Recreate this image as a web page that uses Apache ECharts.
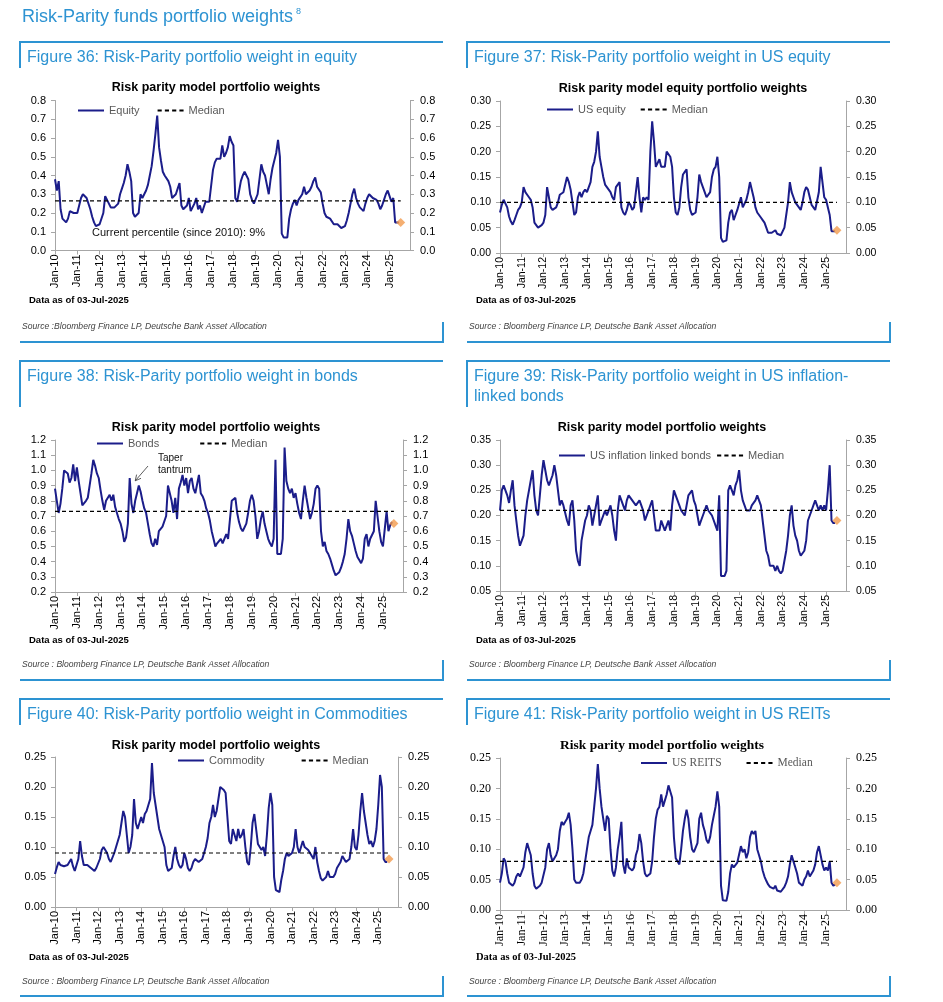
<!DOCTYPE html>
<html><head><meta charset="utf-8">
<script src="https://cdn.jsdelivr.net/npm/echarts@6/dist/echarts.min.js"></script>
<style>html,body{margin:0;padding:0;background:#fff}#c{width:943px;height:1002px}</style>
</head><body><div id="c"></div>
<script>
// ---------- data ----------
const MONTHS = ['Jan','Feb','Mar','Apr','May','Jun','Jul','Aug','Sep','Oct','Nov','Dec'];
const CATEGORIES = [];
for (let y = 2010; y <= 2025; y++) for (let m = 0; m < 12; m++) CATEGORIES.push(MONTHS[m] + '-' + String(y).slice(2));
const LATEST_DATE = 'Jul-25';
const MEDIAN_END = 'Jul-25';

const EQUITY = [
0.38,0.32,0.37,0.22,0.17,0.16,0.15,0.17,0.21,0.22,0.2,0.2,
0.2,0.21,0.28,0.3,0.29,0.28,0.27,0.22,0.18,0.15,0.13,0.13,
0.14,0.15,0.2,0.29,0.27,0.25,0.23,0.22,0.23,0.22,0.25,0.3,
0.33,0.36,0.4,0.46,0.42,0.37,0.2,0.18,0.18,0.2,0.3,0.28,
0.3,0.32,0.35,0.4,0.45,0.53,0.62,0.72,0.55,0.48,0.42,0.4,
0.39,0.37,0.34,0.28,0.27,0.3,0.33,0.36,0.24,0.22,0.21,0.24,
0.28,0.21,0.2,0.25,0.28,0.22,0.24,0.2,0.19,0.26,0.27,0.26,
0.27,0.43,0.47,0.49,0.5,0.49,0.56,0.5,0.52,0.55,0.61,0.58,
0.56,0.28,0.26,0.26,0.37,0.4,0.42,0.41,0.38,0.3,0.27,0.25,
0.25,0.3,0.38,0.46,0.42,0.4,0.35,0.3,0.38,0.44,0.48,0.52,
0.59,0.5,0.09,0.07,0.07,0.07,0.17,0.22,0.25,0.27,0.24,0.27,
0.27,0.3,0.34,0.3,0.29,0.32,0.34,0.37,0.39,0.34,0.33,0.31,
0.25,0.2,0.18,0.17,0.17,0.16,0.14,0.15,0.14,0.13,0.12,0.12,
0.13,0.16,0.2,0.25,0.3,0.33,0.28,0.25,0.23,0.22,0.21,0.25,
0.28,0.3,0.29,0.28,0.27,0.27,0.25,0.22,0.24,0.27,0.3,0.32,
0.29,0.26,0.28,0.15,0.14,0.15];
const EQUITY_MEDIAN = 0.265, EQUITY_LATEST = 0.15;

const US_EQUITY = [
0.08,0.095,0.105,0.103,0.09,0.072,0.062,0.056,0.065,0.075,0.085,0.09,
0.1,0.13,0.12,0.115,0.11,0.105,0.09,0.06,0.055,0.05,0.05,0.055,
0.06,0.075,0.13,0.11,0.09,0.085,0.085,0.09,0.1,0.115,0.115,0.12,
0.12,0.15,0.14,0.125,0.1,0.075,0.08,0.11,0.12,0.11,0.12,0.125,
0.12,0.13,0.14,0.17,0.18,0.2,0.24,0.19,0.17,0.15,0.135,0.13,
0.13,0.12,0.11,0.105,0.13,0.135,0.14,0.09,0.08,0.075,0.085,0.1,
0.095,0.085,0.09,0.12,0.15,0.11,0.08,0.11,0.105,0.11,0.105,0.2,
0.26,0.22,0.17,0.17,0.185,0.17,0.17,0.17,0.2,0.2,0.19,0.17,
0.11,0.08,0.075,0.09,0.13,0.155,0.16,0.165,0.11,0.085,0.075,0.078,
0.08,0.11,0.155,0.14,0.13,0.12,0.11,0.11,0.12,0.15,0.165,0.17,
0.19,0.15,0.03,0.022,0.022,0.025,0.06,0.08,0.085,0.065,0.075,0.085,
0.085,0.11,0.09,0.09,0.105,0.12,0.14,0.125,0.11,0.09,0.08,0.075,
0.07,0.065,0.06,0.05,0.04,0.038,0.04,0.042,0.045,0.038,0.035,0.035,
0.038,0.05,0.075,0.1,0.14,0.12,0.11,0.1,0.095,0.09,0.085,0.1,
0.12,0.13,0.125,0.11,0.095,0.09,0.085,0.085,0.12,0.17,0.14,0.11,
0.105,0.09,0.075,0.043,0.042,0.043];
const US_EQUITY_MEDIAN = 0.10, US_EQUITY_LATEST = 0.045;

const BONDS = [
0.88,0.8,0.72,0.78,0.88,1.0,0.99,0.98,0.92,0.95,1.04,0.93,
1.02,0.93,0.85,0.77,0.76,0.8,0.82,0.9,0.98,1.07,1.03,0.98,
0.95,0.87,0.8,0.74,0.8,0.82,0.84,0.8,0.84,0.76,0.72,0.68,
0.65,0.6,0.53,0.56,0.65,0.95,0.78,0.72,0.8,0.85,0.9,0.86,
0.8,0.75,0.72,0.65,0.58,0.52,0.5,0.55,0.51,0.6,0.6,0.63,
0.63,0.7,0.9,0.9,0.8,0.72,0.82,0.68,0.88,0.92,0.97,0.9,
0.95,0.85,0.93,0.95,0.88,0.85,0.86,0.97,0.85,0.83,0.8,0.75,
0.72,0.67,0.6,0.55,0.5,0.52,0.52,0.55,0.52,0.51,0.58,0.55,
0.55,0.8,0.8,0.82,0.72,0.66,0.62,0.6,0.6,0.65,0.72,0.8,
0.84,0.8,0.7,0.55,0.6,0.68,0.73,0.65,0.6,0.55,0.52,0.5,
0.55,1.07,0.45,0.45,0.45,0.55,1.15,0.93,0.88,0.85,0.88,0.82,
0.85,0.78,0.72,0.68,0.8,0.9,0.82,0.75,0.68,0.72,0.78,0.88,
0.9,0.88,0.6,0.5,0.53,0.47,0.45,0.42,0.38,0.34,0.31,0.31,
0.33,0.36,0.4,0.45,0.55,0.68,0.6,0.57,0.52,0.47,0.43,0.41,
0.39,0.42,0.55,0.58,0.5,0.55,0.56,0.6,0.8,0.7,0.6,0.53,
0.5,0.49,0.73,0.6,0.64,0.66];
const BONDS_MEDIAN = 0.73, BONDS_LATEST = 0.65;

const US_ILB = [
0.21,0.25,0.26,0.26,0.24,0.225,0.25,0.27,0.22,0.19,0.16,0.14,
0.14,0.16,0.2,0.23,0.25,0.27,0.29,0.24,0.21,0.2,0.24,0.28,
0.31,0.29,0.27,0.26,0.27,0.28,0.3,0.28,0.25,0.22,0.23,0.22,
0.22,0.19,0.18,0.22,0.23,0.19,0.13,0.11,0.1,0.15,0.17,0.19,
0.2,0.22,0.21,0.18,0.2,0.2,0.24,0.18,0.19,0.2,0.21,0.2,
0.2,0.22,0.2,0.17,0.15,0.21,0.24,0.23,0.22,0.21,0.23,0.24,
0.24,0.23,0.23,0.22,0.22,0.23,0.22,0.21,0.19,0.2,0.21,0.22,
0.23,0.2,0.17,0.17,0.17,0.19,0.18,0.17,0.18,0.19,0.17,0.22,
0.25,0.25,0.23,0.22,0.21,0.21,0.2,0.22,0.24,0.24,0.25,0.23,
0.22,0.2,0.18,0.19,0.2,0.21,0.22,0.21,0.21,0.2,0.19,0.18,
0.17,0.24,0.08,0.08,0.08,0.09,0.25,0.26,0.25,0.24,0.26,0.27,
0.29,0.25,0.23,0.22,0.21,0.21,0.21,0.22,0.22,0.23,0.24,0.23,
0.22,0.19,0.16,0.13,0.12,0.1,0.1,0.1,0.09,0.1,0.09,0.085,
0.09,0.11,0.13,0.16,0.2,0.22,0.18,0.16,0.15,0.13,0.12,0.12,
0.13,0.15,0.19,0.2,0.21,0.22,0.23,0.22,0.21,0.22,0.21,0.22,
0.21,0.25,0.3,0.19,0.185,0.185];
const US_ILB_MEDIAN = 0.21, US_ILB_LATEST = 0.19;

const COMMODITY = [
0.055,0.066,0.075,0.07,0.07,0.068,0.068,0.07,0.075,0.08,0.068,0.06,
0.058,0.08,0.11,0.085,0.07,0.068,0.07,0.068,0.065,0.062,0.06,0.065,
0.068,0.08,0.095,0.1,0.095,0.09,0.08,0.075,0.075,0.09,0.1,0.11,
0.12,0.14,0.16,0.15,0.12,0.09,0.1,0.12,0.18,0.14,0.13,0.14,
0.15,0.14,0.155,0.16,0.17,0.18,0.24,0.19,0.17,0.15,0.13,0.12,
0.12,0.1,0.07,0.06,0.06,0.065,0.085,0.1,0.08,0.07,0.065,0.07,
0.09,0.08,0.065,0.06,0.065,0.075,0.08,0.082,0.075,0.072,0.08,0.09,
0.1,0.115,0.14,0.15,0.17,0.15,0.16,0.18,0.2,0.2,0.195,0.19,
0.15,0.11,0.105,0.13,0.12,0.11,0.13,0.115,0.12,0.13,0.1,0.075,
0.07,0.1,0.14,0.155,0.13,0.105,0.1,0.095,0.1,0.085,0.12,0.165,
0.19,0.17,0.05,0.028,0.027,0.025,0.045,0.06,0.08,0.09,0.085,0.085,
0.09,0.1,0.13,0.1,0.09,0.09,0.11,0.1,0.1,0.095,0.09,0.085,
0.08,0.1,0.075,0.06,0.048,0.044,0.042,0.05,0.06,0.05,0.048,0.05,
0.055,0.065,0.07,0.075,0.085,0.08,0.075,0.075,0.08,0.1,0.13,0.1,
0.095,0.12,0.16,0.19,0.16,0.14,0.12,0.105,0.11,0.1,0.11,0.13,
0.17,0.22,0.2,0.08,0.075,0.075];
const COMMODITY_MEDIAN = 0.09, COMMODITY_LATEST = 0.08;

const US_REITS = [
0.045,0.06,0.085,0.08,0.06,0.045,0.042,0.04,0.045,0.055,0.06,0.055,
0.055,0.07,0.095,0.11,0.1,0.09,0.06,0.04,0.035,0.033,0.04,0.045,
0.045,0.07,0.1,0.11,0.09,0.08,0.085,0.09,0.1,0.13,0.145,0.14,
0.145,0.15,0.16,0.14,0.1,0.05,0.045,0.042,0.045,0.05,0.06,0.08,
0.1,0.12,0.13,0.14,0.17,0.2,0.24,0.2,0.17,0.15,0.13,0.155,
0.15,0.1,0.065,0.055,0.07,0.1,0.12,0.145,0.075,0.06,0.085,0.07,
0.07,0.065,0.07,0.09,0.1,0.125,0.11,0.08,0.06,0.055,0.055,0.06,
0.08,0.12,0.15,0.165,0.17,0.19,0.17,0.17,0.19,0.205,0.195,0.185,
0.12,0.085,0.08,0.075,0.1,0.13,0.15,0.165,0.15,0.12,0.1,0.095,
0.095,0.11,0.15,0.16,0.14,0.13,0.115,0.11,0.12,0.14,0.155,0.17,
0.195,0.17,0.04,0.016,0.015,0.015,0.03,0.06,0.075,0.07,0.072,0.078,
0.08,0.105,0.095,0.1,0.085,0.095,0.12,0.13,0.125,0.13,0.1,0.09,
0.08,0.065,0.055,0.048,0.042,0.038,0.04,0.035,0.04,0.032,0.03,0.03,
0.033,0.038,0.045,0.055,0.075,0.09,0.08,0.078,0.06,0.045,0.042,0.04,
0.05,0.055,0.065,0.055,0.06,0.065,0.075,0.095,0.105,0.09,0.075,0.065,
0.07,0.065,0.08,0.045,0.04,0.042];
const US_REITS_MEDIAN = 0.08, US_REITS_LATEST = 0.045;

// ---------- styling / layout ----------
const SANS = '"Liberation Sans", Arial, sans-serif';
const SERIF = '"Liberation Serif", "Times New Roman", serif';
const NAVY = '#1b1d8a';
const BLUE = '#2d93d2';
const ORANGE = '#f39b4e';
const AXIS_GREY = '#a6a6a6';
const SOLID_ICON = 'path://M0,0h26v2h-26z';
const DASH_ICON = 'path://M0,0h4v2h-4z M7,0h4v2h-4z M14,0h4v2h-4z M21,0h4v2h-4z';

const panels = [
  {name:'Equity', data:EQUITY, median:EQUITY_MEDIAN, latest:EQUITY_LATEST,
   grid:{left:55, top:100.5, width:355, height:150}, min:0, max:0.8, interval:0.1, dec:1, font:SANS, fs:11,
   legend:{left:78, cy:111, gap:18}, title:'Risk parity model portfolio weights', tx:216, ty:88},
  {name:'US equity', data:US_EQUITY, median:US_EQUITY_MEDIAN, latest:US_EQUITY_LATEST,
   grid:{left:500, top:101, width:346, height:152}, min:0, max:0.3, interval:0.05, dec:2, font:SANS, fs:10.5,
   legend:{left:547, cy:110, gap:15}, title:'Risk parity model equity portfolio weights', tx:683, ty:89},
  {name:'Bonds', data:BONDS, median:BONDS_MEDIAN, latest:BONDS_LATEST,
   grid:{left:55, top:440, width:348, height:152}, min:0.2, max:1.2, interval:0.1, dec:1, font:SANS, fs:11,
   legend:{left:97, cy:444, gap:41}, title:'Risk parity model portfolio weights', tx:216, ty:428},
  {name:'US inflation linked bonds', data:US_ILB, median:US_ILB_MEDIAN, latest:US_ILB_LATEST,
   grid:{left:500, top:440, width:346, height:151}, min:0.05, max:0.35, interval:0.05, dec:2, font:SANS, fs:10.5,
   legend:{left:559, cy:456, gap:6}, title:'Risk parity model portfolio weights', tx:662, ty:428},
  {name:'Commodity', data:COMMODITY, median:COMMODITY_MEDIAN, latest:COMMODITY_LATEST,
   grid:{left:55, top:757, width:343, height:150}, min:0, max:0.25, interval:0.05, dec:2, font:SANS, fs:11,
   legend:{left:178, cy:761, gap:37}, title:'Risk parity model portfolio weights', tx:216, ty:746},
  {name:'US REITS', data:US_REITS, median:US_REITS_MEDIAN, latest:US_REITS_LATEST,
   grid:{left:500, top:758, width:346, height:152}, min:0, max:0.25, interval:0.05, dec:2, font:SERIF, fs:12,
   legend:{left:641, cy:763, gap:25}, title:'Risk parity model portfolio weights', tx:662, ty:746}
];

const grids = [], xAxes = [], yAxes = [], series = [], legends = [];
panels.forEach((p, i) => {
  grids.push(Object.assign({containLabel:false}, p.grid));
  xAxes.push({
    type:'category', gridIndex:i, data:CATEGORIES, boundaryGap:false,
    axisLine:{lineStyle:{color:AXIS_GREY, width:1}},
    axisTick:{interval:11, length:4, lineStyle:{color:AXIS_GREY}},
    axisLabel:{interval:11, rotate:90, fontSize:p.fs, color:'#000', margin:4, fontFamily:p.font},
    splitLine:{show:false}
  });
  const yBase = {
    type:'value', gridIndex:i, min:p.min, max:p.max, interval:p.interval,
    axisLine:{show:true, lineStyle:{color:AXIS_GREY}},
    axisTick:{show:true, length:4, lineStyle:{color:AXIS_GREY}},
    splitLine:{show:false}
  };
  yAxes.push(Object.assign({}, yBase, {position:'left',
    axisLabel:{fontSize:p.fs, color:'#000', margin:9, fontFamily:p.font, formatter:v => v.toFixed(p.dec)}}));
  yAxes.push(Object.assign({}, yBase, {position:'right',
    axisLabel:{fontSize:p.fs, color:'#000', margin:10, fontFamily:p.font, formatter:v => v.toFixed(p.dec)}}));
  series.push({
    name:p.name, type:'line', xAxisIndex:i, yAxisIndex:2*i, data:p.data,
    symbol:'none', lineStyle:{color:NAVY, width:2}, itemStyle:{color:NAVY}, z:3, animation:false
  });
  series.push({
    name:'Median', type:'line', xAxisIndex:i, yAxisIndex:2*i,
    data:[[CATEGORIES[0], p.median], [MEDIAN_END, p.median]],
    symbol:'none', lineStyle:{color:'#000', width:1.2, type:[4,3]}, itemStyle:{color:'#000'}, z:4, animation:false
  });
  series.push({
    name:'Latest', type:'scatter', xAxisIndex:i, yAxisIndex:2*i,
    data:[[LATEST_DATE, p.latest]], symbol:'diamond', symbolSize:9,
    itemStyle:{color:ORANGE}, z:5, animation:false
  });
  legends.push({
    data:[{name:p.name, icon:SOLID_ICON}, {name:'Median', icon:DASH_ICON}],
    left:p.legend.left, top:p.legend.cy - 6, padding:0, symbolKeepAspect:false,
    itemWidth:26, itemHeight:2, itemGap:p.legend.gap, selectedMode:false,
    textStyle:{fontSize:p.font === SERIF ? 11.5 : 11, color:'#595959', fontFamily:p.font}
  });
});

// ---------- texts and frames ----------
const graphic = [];
function txt(text, x, y, opts) {
  graphic.push({type:'text', silent:true, style:Object.assign({
    text, x, y, fill:'#000', fontSize:11, fontFamily:SANS, textAlign:'left', textVerticalAlign:'middle'
  }, opts || {})});
}
function pl(points, w) {
  graphic.push({type:'polyline', silent:true, shape:{points}, style:{stroke:BLUE, lineWidth:w || 2, fill:null}});
}
txt('Risk-Parity funds portfolio weights', 22, 17, {fontSize:18, fill:BLUE});
txt('8', 296, 12, {fontSize:9, fill:BLUE});

const FIG_TITLES = [
  ['Figure 36: Risk-Parity portfolio weight in equity'],
  ['Figure 37: Risk-Parity portfolio weight in US equity'],
  ['Figure 38: Risk-Parity portfolio weight in bonds'],
  ['Figure 39: Risk-Parity portfolio weight in US inflation-', 'linked bonds'],
  ['Figure 40: Risk-Parity portfolio weight in Commodities'],
  ['Figure 41: Risk-Parity portfolio weight in US REITs']
];
const SOURCES = [
  'Source :Bloomberg Finance LP, Deutsche Bank Asset Allocation',
  'Source : Bloomberg Finance LP, Deutsche Bank Asset Allocation',
  'Source : Bloomberg Finance LP, Deutsche Bank Asset Allocation',
  'Source : Bloomberg Finance LP, Deutsche Bank Asset Allocation',
  'Source : Bloomberg Finance LP, Deutsche Bank Asset Allocation',
  'Source : Bloomberg Finance LP, Deutsche Bank Asset Allocation'
];
const DATA_AS_OF = 'Data as of 03-Jul-2025';
const ROW_TOP = [42, 361, 699], HEAD_BOTTOM = [68, 407, 725], ROW_BOTTOM = [342, 680, 996];
const DATA_Y = [300, 640, 957], SRC_Y = [327, 665, 982], FIG_Y = [58, 377, 715];
const COL_L = [20, 467], COL_R = [443, 890];

panels.forEach((p, i) => {
  const r = Math.floor(i / 2), c = i % 2;
  const L = COL_L[c], R = COL_R[c];
  pl([[L, HEAD_BOTTOM[r]], [L, ROW_TOP[r]], [R, ROW_TOP[r]]]);
  pl([[L, ROW_BOTTOM[r]], [R, ROW_BOTTOM[r]], [R, ROW_BOTTOM[r] - 20]]);
  FIG_TITLES[i].forEach((t, k) => txt(t, L + 7, FIG_Y[r] + k * 20, {fontSize:16, fill:BLUE}));
  txt(p.title, p.tx, p.ty, {fontSize: p.font === SERIF ? 13.5 : 12.5, fontWeight:'bold', fontFamily:p.font, textAlign:'center'});
  txt(DATA_AS_OF, L + 9, DATA_Y[r], {fontSize: p.font === SERIF ? 10.5 : 9.5, fontWeight:'bold', fontFamily:p.font});
  txt(SOURCES[i], L + 2, SRC_Y[r], {fontSize:8.6, fontStyle:'italic', fill:'#444'});
});
txt('Current percentile (since 2010): 9%', 92, 233, {fontSize:11, fill:'#111'});
txt('Taper', 158, 458, {fontSize:10, fill:'#111'});
txt('tantrum', 158, 470, {fontSize:10, fill:'#111'});
graphic.push({type:'line', silent:true, shape:{x1:148, y1:466, x2:135.5, y2:480.5}, style:{stroke:'#333', lineWidth:0.8}});
graphic.push({type:'polyline', silent:true, shape:{points:[[136.6, 474.6], [135.2, 480.8], [141, 478.3]]}, style:{stroke:'#333', lineWidth:0.8, fill:null}});

const chart = echarts.init(document.getElementById('c'), null, {renderer:'canvas'});
chart.setOption({
  animation:false, backgroundColor:'#fff',
  grid:grids, xAxis:xAxes, yAxis:yAxes, series:series, legend:legends, graphic:graphic
});
</script></body></html>
